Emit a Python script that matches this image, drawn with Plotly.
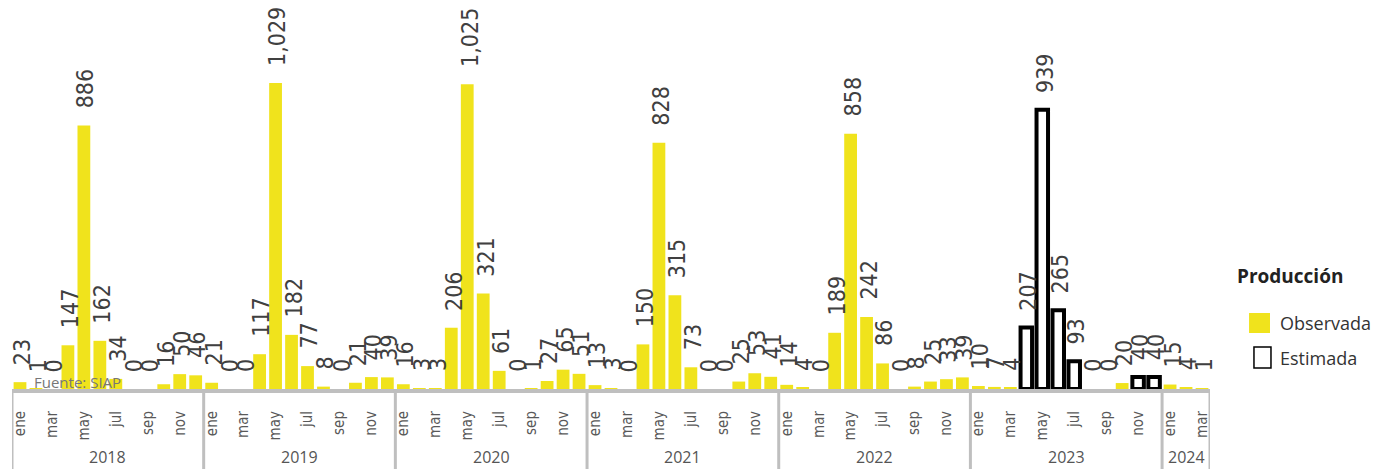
import plotly.graph_objects as go

meses = ["ene", "feb", "mar", "abr", "may", "jun", "jul", "ago", "sep", "oct", "nov", "dic"]
anios = ["2018", "2019", "2020", "2021", "2022", "2023", "2024"]
meses_por_anio = [12, 12, 12, 12, 12, 12, 3]

observada = [
    23, 1, 0, 147, 886, 162, 34, 0, 0, 16, 50, 46,        # 2018
    21, 0, 0, 117, 1029, 182, 77, 8, 0, 21, 40, 39,       # 2019
    16, 3, 3, 206, 1025, 321, 61, 0, 1, 27, 65, 51,       # 2020
    13, 3, 0, 150, 828, 315, 73, 0, 0, 25, 53, 41,        # 2021
    14, 4, 0, 189, 858, 242, 86, 0, 8, 25, 33, 39,        # 2022
    10, 7, 4, None, None, None, None, 0, 0, 20, None, None,  # 2023
    15, 4, 1,                                             # 2024
]
estimada = [
    None] * 60 + [
    None, None, None, 207, 939, 265, 93, None, None, None, 40, 40,  # 2023
    None, None, None,                                               # 2024
]

# category positions
etiquetas_mes = []
for a, n in zip(anios, meses_por_anio):
    etiquetas_mes += meses[:n]
x = list(range(len(etiquetas_mes)))

AMARILLO = "#F0E31C"
GRIS = "#bfbfbf"
TXT = "#404040"
NARROW = "Liberation Sans Narrow, Arial Narrow, DejaVu Sans Condensed, sans-serif"

fig = go.Figure()
fig.add_trace(go.Bar(
    x=x, y=observada, width=0.8, marker=dict(color=AMARILLO, line=dict(width=0)),
    name="Observada", showlegend=False,
))
fig.add_trace(go.Bar(
    x=x, y=estimada, width=0.72,
    marker=dict(color="white", line=dict(color="black", width=4)),
    name="Estimada", showlegend=False,
))

annotations = []
for serie in (observada, estimada):
    for xi, v in zip(x, serie):
        if v is None:
            continue
        annotations.append(dict(
            x=xi, y=v, xref="x", yref="y", text=f"{v:,}", textangle=-90,
            showarrow=False, xanchor="center", yanchor="bottom", yshift=15, xshift=2,
            font=dict(family=NARROW, size=23, color=TXT),
        ))

# year labels and separators
shapes = []
inicio = 0
for a, n in zip(anios, meses_por_anio):
    annotations.append(dict(
        x=inicio + (n - 1) / 2, y=-0.1785, xref="x", yref="paper", text=a,
        showarrow=False, xanchor="center", yanchor="middle",
        font=dict(family="Open Sans", size=16, color="#555555"),
    ))
    shapes.append(dict(type="line", xref="x", yref="paper", x0=inicio - 0.5, x1=inicio - 0.5,
                       y0=0, y1=-0.215, line=dict(color=GRIS, width=3)))
    inicio += n
shapes.append(dict(type="line", xref="x", yref="paper", x0=inicio - 0.5, x1=inicio - 0.5,
                   y0=0, y1=-0.215, line=dict(color=GRIS, width=3)))

# source
annotations.append(dict(
    x=0.0167, y=0.0184, xref="paper", yref="paper", text="Fuente: SIAP", showarrow=False,
    xanchor="left", yanchor="middle", font=dict(family="Open Sans", size=15, color="#777777"),
))

# legend (manual)
annotations += [
    dict(x=1.0205, y=0.2966, xref="paper", yref="paper", text="<b>Producción</b>", showarrow=False,
         xanchor="left", yanchor="middle", font=dict(family="Open Sans", size=19, color="#222222")),
    dict(x=1.0565, y=0.1732, xref="paper", yref="paper", text="Observada", showarrow=False,
         xanchor="left", yanchor="middle", font=dict(family="Open Sans", size=18, color="#333333")),
    dict(x=1.0565, y=0.0814, xref="paper", yref="paper", text="Estimada", showarrow=False,
         xanchor="left", yanchor="middle", font=dict(family="Open Sans", size=18, color="#333333")),
]
shapes += [
    dict(type="rect", xref="paper", yref="paper", x0=1.0326, x1=1.0501, y0=0.147, y1=0.1995,
         fillcolor=AMARILLO, line=dict(width=0)),
    dict(type="rect", xref="paper", yref="paper", x0=1.0367, x1=1.0509, y0=0.0551, y1=0.1102,
         fillcolor="white", line=dict(color="black", width=1.5)),
]

tickvals = [xi for xi, m in zip(x, etiquetas_mes) if m in ("ene", "mar", "may", "jul", "sep", "nov")]
ticktext = [etiquetas_mes[xi] for xi in tickvals]

fig.update_layout(
    width=1373, height=461,
    margin=dict(l=4, r=171, t=0, b=80),
    paper_bgcolor="white", plot_bgcolor="white",
    barmode="overlay", showlegend=False,
    annotations=annotations, shapes=shapes,
    xaxis=dict(
        range=[-0.5, len(x) - 0.5], tickvals=tickvals, ticktext=ticktext, tickangle=-90,
        ticks="outside", ticklen=12, tickcolor="rgba(0,0,0,0)",
        tickfont=dict(family=NARROW, size=15, color="#595959"),
        showline=True, linecolor=GRIS, linewidth=4, showgrid=False, zeroline=False,
        automargin=False,
    ),
    yaxis=dict(range=[0, 1281], visible=False, showgrid=False, zeroline=False),
)

fig.write_html("out.html")
